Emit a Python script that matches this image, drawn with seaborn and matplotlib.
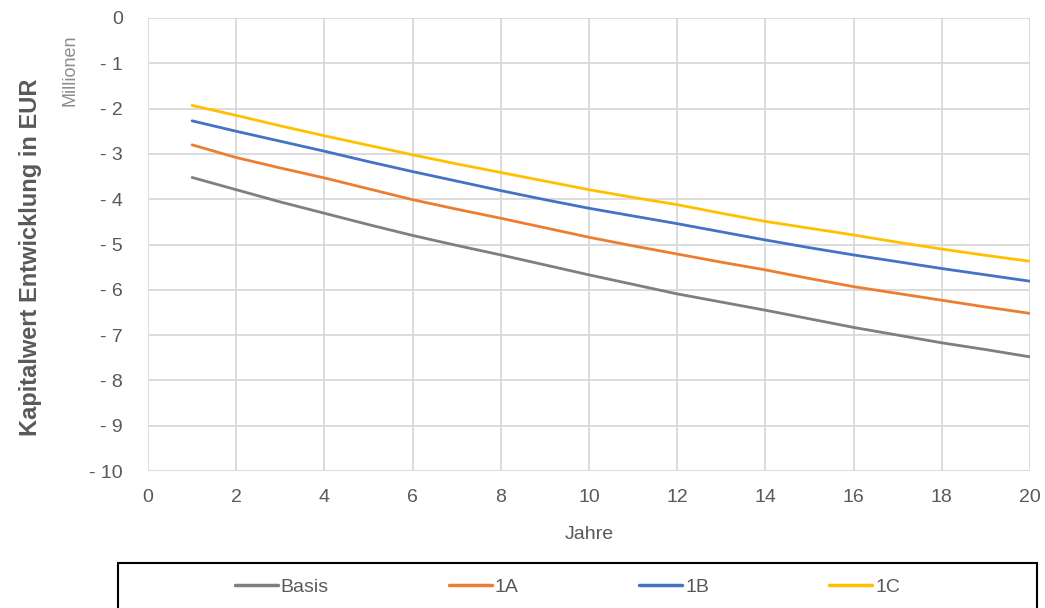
import pandas as pd
import matplotlib
matplotlib.use("Agg")
import matplotlib.pyplot as plt
import matplotlib.patches as mpatches
import seaborn as sns

# Kapitalwert je Jahr (Millionen EUR)
jahre = list(range(1, 21))
basis = [-3.52, -3.79, -4.06, -4.31, -4.56, -4.80, -5.02, -5.23, -5.45, -5.67,
         -5.88, -6.09, -6.27, -6.45, -6.64, -6.83, -7.00, -7.17, -7.32, -7.48]
s1a = [-2.80, -3.08, -3.31, -3.53, -3.77, -4.01, -4.22, -4.42, -4.63, -4.84,
       -5.03, -5.21, -5.39, -5.56, -5.75, -5.93, -6.08, -6.23, -6.38, -6.52]
s1b = [-2.27, -2.50, -2.72, -2.94, -3.17, -3.39, -3.60, -3.81, -4.01, -4.20,
       -4.37, -4.54, -4.72, -4.90, -5.07, -5.23, -5.38, -5.53, -5.67, -5.81]
s1c = [-1.93, -2.15, -2.38, -2.60, -2.81, -3.02, -3.22, -3.41, -3.60, -3.79,
       -3.96, -4.12, -4.31, -4.49, -4.64, -4.79, -4.95, -5.10, -5.24, -5.37]
namen = ["Basis", "1A", "1B", "1C"]
farben = ["#7F7F7F", "#ED7D31", "#4472C4", "#FFC000"]

df = pd.DataFrame({"Jahre": jahre * 4,
                   "Wert": basis + s1a + s1b + s1c,
                   "Szenario": [n for n in namen for _ in jahre]})

sns.set_style("white")
plt.rcParams['font.family'] = ['Liberation Sans', 'DejaVu Sans']
grau = "#595959"

fig = plt.figure(figsize=(10.45, 6.08), dpi=100)
ax = fig.add_axes([0.1416, 0.2253, 0.8440, 0.7451])
sns.lineplot(data=df, x="Jahre", y="Wert", hue="Szenario", palette=farben,
             hue_order=namen, linewidth=2.0, ax=ax, legend=False)

ax.set_xlim(0, 20)
ax.set_ylim(-10, 0)
ax.set_xticks(range(0, 21, 2))
ax.set_yticks(range(-10, 1))
ax.set_yticklabels(["0" if v == 0 else f"- {abs(v)}" for v in range(-10, 1)])
ax.grid(True, color="#D9D9D9", linewidth=1.3)
for s in ax.spines.values():
    s.set_visible(False)
ax.tick_params(length=0, labelsize=14, labelcolor=grau)
ax.tick_params(axis="y", pad=18)
ax.tick_params(axis="x", pad=13)
ax.set_xlabel("Jahre", fontsize=14, color=grau, labelpad=14)
ax.set_ylabel("")

fig.text(0.029, 0.577, "Kapitalwert Entwicklung in EUR", rotation=90,
         ha="center", va="center", fontsize=17, fontweight="bold", color=grau)
fig.text(0.067, 0.885, "Millionen", rotation=90, ha="center", va="center",
         fontsize=13, color="#8C8C8C")

# Legende mit schwarzem Rahmen
fig.patches.append(mpatches.Rectangle((0.113, -0.02), 0.879, 0.094,
                                      transform=fig.transFigure, fill=False,
                                      edgecolor="black", linewidth=1.5))
handles = [plt.Line2D([], [], color=c, linewidth=2.5) for c in farben]
leg = fig.legend(handles, namen, loc="center", bbox_to_anchor=(0.543, 0.0345),
                 ncol=4, frameon=False, fontsize=14, handlelength=2.2,
                 handletextpad=0.15, columnspacing=6.2)
for t in leg.get_texts():
    t.set_color(grau)

fig.savefig("out.png", dpi=100)
